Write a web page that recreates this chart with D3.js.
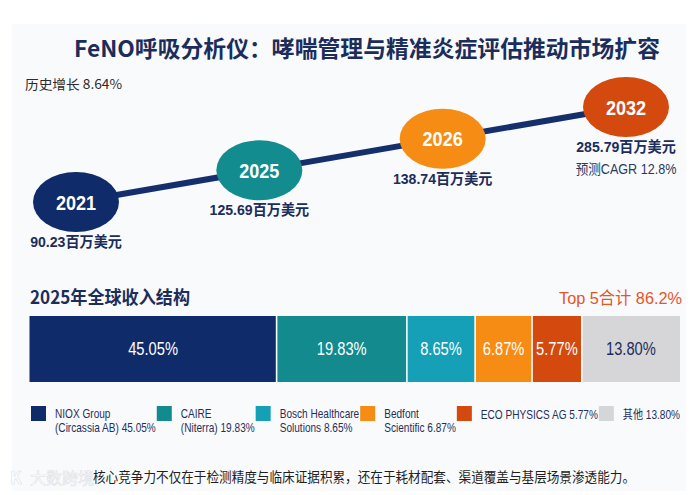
<!DOCTYPE html>
<html><head><meta charset="utf-8">
<script src="https://cdn.jsdelivr.net/npm/d3@7"></script>
<style>
html,body{margin:0;padding:0;background:#fff;}
svg{display:block;}
</style></head>
<body>
<svg id="chart" width="698" height="495"></svg>
<script>
// ---------- data ----------
const titleText = "FeNO呼吸分析仪：哮喘管理与精准炎症评估推动市场扩容";
const years = ["2021", "2025", "2026", "2032"];
const marketValues = [90.23, 125.69, 138.74, 285.79];   // 百万美元
const historicalCAGR = 8.64;
const forecastCAGR = 12.8;
const structureTitle = "2025年全球收入结构";
const companies = ["NIOX Group (Circassia AB)", "CAIRE (Niterra)", "Bosch Healthcare Solutions",
                   "Bedfont Scientific", "ECO PHYSICS AG", "其他"];
const legendNameLines = [["NIOX Group", "(Circassia AB)"], ["CAIRE", "(Niterra)"],
                         ["Bosch Healthcare", "Solutions "], ["Bedfont", "Scientific"],
                         ["ECO PHYSICS AG"], ["其他"]];
const shares = [45.05, 19.83, 8.65, 6.87, 5.77, 13.80];   // %
const footnote = "核心竞争力不仅在于检测精度与临床证据积累，还在于耗材配套、渠道覆盖与基层场景渗透能力。";
const watermark = "大数跨境";

// ---------- styles ----------
const yearColors = ["#0f2b69", "#138c90", "#f78c14", "#d4490d"];
const shareColors = ["#0f2b69", "#128a8e", "#15a0b8", "#f78c14", "#d4490d", "#d6d6d8"];
const navy = "#1b2d5b";
const CJK = "'Noto Sans CJK SC','Noto Sans',sans-serif";
const LAT = "'Liberation Sans','Noto Sans CJK SC',sans-serif";

const svg = d3.select("#chart");
const W = 698, H = 495;

// condensed text helper: horizontal squeeze around anchor point
function cText(parent, x, y, f) {
  return parent.append("g").attr("transform", `translate(${x},${y}) scale(${f},1)`)
    .append("text").attr("x", 0).attr("y", 0);
}

// soft panel background
svg.append("rect").attr("x", 12).attr("y", 24).attr("width", W - 24).attr("height", H - 28)
  .attr("fill", "#f9fafc");

// title
svg.append("text").attr("x", 367).attr("y", 57).attr("text-anchor", "middle")
  .attr("font-family", CJK).attr("font-weight", 700).attr("font-size", 23)
  .attr("fill", navy).attr("textLength", 586).attr("lengthAdjust", "spacingAndGlyphs")
  .text(titleText);

svg.append("text").attr("x", 25).attr("y", 89)
  .attr("font-family", CJK).attr("font-size", 13).attr("fill", "#2b2b2b")
  .attr("textLength", 97).attr("lengthAdjust", "spacingAndGlyphs")
  .text("历史增长 " + historicalCAGR.toFixed(2) + "%");

// ---------- timeline ----------
const xT = d3.scalePoint().domain(years).range([76, 626]);
const yT = d3.scalePoint().domain(years).range([202, 107]);
const tl = years.map((y, i) => ({year: y, value: marketValues[i], color: yearColors[i]}));

svg.append("path").datum(tl)
  .attr("d", d3.line().x(d => xT(d.year)).y(d => yT(d.year)))
  .attr("fill", "none").attr("stroke", "#142f6b").attr("stroke-width", 6);

const nodes = svg.selectAll("g.node").data(tl).join("g").attr("class", "node")
  .attr("transform", d => `translate(${xT(d.year)},${yT(d.year)})`);
nodes.append("ellipse").attr("rx", 43).attr("ry", 30).attr("fill", d => d.color);
nodes.each(function(d, i) {
  const g = d3.select(this);
  cText(g, 0, 7.5, 0.86).attr("text-anchor", "middle")
    .attr("font-family", LAT).attr("font-weight", 700).attr("font-size", 21)
    .attr("fill", "#fff").text(d.year);
  cText(g, 0, 45, 0.94).attr("text-anchor", "middle")
    .attr("font-family", LAT).attr("font-weight", 700).attr("font-size", 15)
    .attr("fill", navy).text(d3.format(".2f")(d.value) + "百万美元");
  if (i === tl.length - 1) {
    cText(g, 0, 67, 0.9).attr("text-anchor", "middle")
      .attr("font-family", LAT).attr("font-size", 14).attr("fill", "#2a3a60")
      .text("预测CAGR " + forecastCAGR + "%");
  }
});

// ---------- revenue structure ----------
const top5 = d3.sum(shares.slice(0, 5));
svg.append("text").attr("x", 30).attr("y", 304)
  .attr("font-family", CJK).attr("font-weight", 700).attr("font-size", 18)
  .attr("fill", navy).attr("textLength", 160).attr("lengthAdjust", "spacingAndGlyphs")
  .text(structureTitle);
svg.append("text").attr("x", 682).attr("y", 304).attr("text-anchor", "end")
  .attr("font-family", LAT).attr("font-size", 17).attr("fill", "#e4552a")
  .attr("textLength", 123).attr("lengthAdjust", "spacingAndGlyphs")
  .text("Top 5合计 " + d3.format(".1f")(top5) + "%");

// segment widths: compressed (power) scale, as in the original layout
const weight = d3.scalePow().exponent(0.78).domain([0, 100]).range([0, 100]);
const segs = [];
let acc = 0;
shares.forEach((s, i) => {
  segs.push({name: companies[i], share: s, color: shareColors[i], w0: acc, w1: acc + weight(s)});
  acc += weight(s);
});
const xB = d3.scaleLinear().domain([0, acc]).range([29.5, 680]);
const barY = 316, barH = 66;

const seg = svg.selectAll("g.seg").data(segs).join("g").attr("class", "seg");
seg.append("rect")
  .attr("x", d => xB(d.w0) + (d.w0 > 0 ? 0.8 : 0))
  .attr("width", d => xB(d.w1) - xB(d.w0) - (d.w0 > 0 ? 0.8 : 0) - (d.w1 < acc - 1e-9 ? 0.8 : 0))
  .attr("y", barY).attr("height", barH).attr("fill", d => d.color);
seg.each(function(d, i) {
  cText(d3.select(this), (xB(d.w0) + xB(d.w1)) / 2, barY + barH / 2 + 6, 0.84)
    .attr("text-anchor", "middle").attr("font-family", LAT).attr("font-size", 17.5)
    .attr("fill", i === segs.length - 1 ? "#1d2c5a" : "#fff")
    .text(d3.format(".2f")(d.share) + "%");
});

// ---------- legend (flow layout justified across bar width) ----------
const LF = 0.84;
const legend = svg.append("g");
const items = legend.selectAll("g.li").data(segs).join("g").attr("class", "li");
items.append("rect").attr("width", 15).attr("height", 15).attr("y", 406)
  .attr("fill", d => d.color);
const widths = [];
items.each(function(d, i) {
  const g = d3.select(this);
  const lines = legendNameLines[i].slice();
  const last = lines.length - 1;
  lines[last] = lines[last] + " " + d3.format(".2f")(d.share) + "%";
  let m = 0;
  lines.forEach((t, k) => {
    const tx = cText(g, 24, lines.length === 1 ? 419 : 418 + k * 14, LF)
      .attr("font-family", LAT).attr("font-size", 12)
      .attr("fill", "#1f2f5a").text(t);
    m = Math.max(m, tx.node().getComputedTextLength() * LF);
  });
  widths.push(24 + m);
});
const lx0 = 31, lx1 = 680;
const gap = (lx1 - lx0 - d3.sum(widths)) / (widths.length - 1);
let lx = lx0;
items.attr("transform", (d, i) => { const t = `translate(${lx},0)`; lx += widths[i] + gap; return t; });

// ---------- footnote + watermark ----------
svg.append("text").attr("x", 93).attr("y", 482)
  .attr("font-family", CJK).attr("font-size", 13.5).attr("fill", "#1e1e1e")
  .attr("textLength", 542).attr("lengthAdjust", "spacingAndGlyphs")
  .text(footnote);
svg.append("text").attr("x", 10).attr("y", 484)
  .attr("font-family", CJK).attr("font-size", 17).attr("font-weight", 700)
  .attr("fill", "#ffffff").attr("stroke", "#dfe2e6").attr("stroke-width", 0.6)
  .text("K");
svg.append("text").attr("x", 30).attr("y", 484)
  .attr("font-family", CJK).attr("font-size", 16)
  .attr("fill", "#ffffff").attr("stroke", "#dfe2e6").attr("stroke-width", 0.6)
  .text(watermark);
</script>
</body></html>
